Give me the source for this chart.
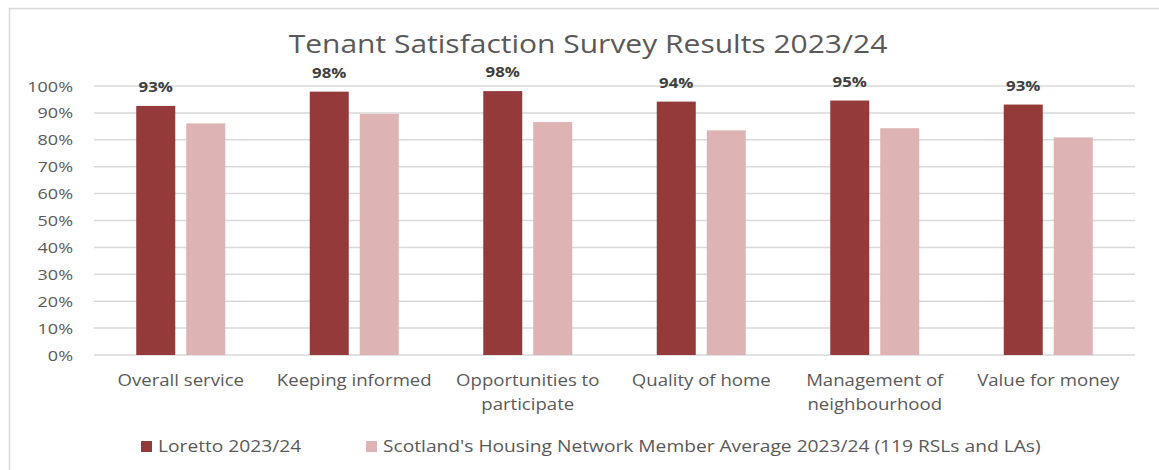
<!DOCTYPE html>
<html>
<head>
<meta charset="utf-8">
<script src="https://cdn.jsdelivr.net/npm/d3@7"></script>
<style>
	body { margin: 0; background: #fff; }
	text { font-family: "Open Sans", sans-serif; }
</style>
</head>
<body>
<div id="chart"></div>
<script>
// Chart data
const categories = [
	["Overall service"],
	["Keeping informed"],
	["Opportunities to", "participate"],
	["Quality of home"],
	["Management of", "neighbourhood"],
	["Value for money"],
];
const loretto = [92.6, 97.9, 98.1, 94.2, 94.6, 93.1];
const lorettoLabels = ["93%", "98%", "98%", "94%", "95%", "93%"];
const networkAvg = [86.1, 89.6, 86.6, 83.5, 84.3, 80.9];
const seriesNames = [
	"Loretto 2023/24",
	"Scotland's Housing Network Member Average 2023/24 (119 RSLs and LAs)",
];
const yTicks = [0, 10, 20, 30, 40, 50, 60, 70, 80, 90, 100];

const colors = ["#943a3a", "#ddb4b3"];

const width = 1159;
const height = 470;
const margin = { top: 86, right: 24, bottom: 115, left: 94 };
const stretch = 1.2; // the source image is widened horizontally

const svg = d3
	.select("#chart")
	.append("svg")
	.attr("width", width)
	.attr("height", height);

// Text helper: places a group at (x, y) and widens its text
function addText(parent, x, y) {
	return parent
		.append("g")
		.attr("transform", `translate(${x},${y}) scale(${stretch},1)`)
		.append("text");
}

// Chart frame (only left/top edges visible in the crop)
svg.append("rect")
	.attr("x", 9.5)
	.attr("y", 8.5)
	.attr("width", 1200)
	.attr("height", 500)
	.attr("fill", "none")
	.attr("stroke", "#d9d9d9")
	.attr("stroke-width", 1.5);

// Title
addText(svg, 588, 53)
	.attr("text-anchor", "middle")
	.style("font-size", "25px")
	.style("fill", "#595959")
	.text("Tenant Satisfaction Survey Results 2023/24");

const x = d3
	.scaleBand()
	.domain(d3.range(categories.length))
	.range([margin.left, width - margin.right]);

const y = d3
	.scaleLinear()
	.domain([0, 100])
	.range([height - margin.bottom, margin.top]);

// Gridlines
svg.append("g")
	.selectAll("line")
	.data(yTicks)
	.join("line")
	.attr("x1", margin.left)
	.attr("x2", width - margin.right)
	.attr("y1", (d) => y(d))
	.attr("y2", (d) => y(d))
	.attr("stroke", "#d9d9d9")
	.attr("stroke-width", 1.5);

// Y axis labels
const yLabels = svg.append("g");
yTicks.forEach((t) => {
	addText(yLabels, 73, y(t) + 5.5)
		.attr("text-anchor", "end")
		.style("font-size", "15px")
		.style("fill", "#595959")
		.text(t + "%");
});

// Bars
const barW = 39;
const gap = 11;
const series = [loretto, networkAvg];

series.forEach((vals, si) => {
	svg.append("g")
		.selectAll("rect")
		.data(vals)
		.join("rect")
		.attr("x", (d, i) => x(i) + x.bandwidth() / 2 - barW - gap / 2 + si * (barW + gap))
		.attr("y", (d) => y(d))
		.attr("width", barW)
		.attr("height", (d) => y(0) - y(d))
		.attr("fill", colors[si]);
});

// Data labels for Loretto
const dataLabels = svg.append("g");
loretto.forEach((v, i) => {
	addText(dataLabels, x(i) + x.bandwidth() / 2 - barW / 2 - gap / 2, y(v) - 14)
		.attr("text-anchor", "middle")
		.style("font-size", "14px")
		.style("font-weight", "bold")
		.style("fill", "#404040")
		.text(lorettoLabels[i]);
});

// X axis labels
const xLabels = svg.append("g");
categories.forEach((lines, i) => {
	const t = addText(xLabels, x(i) + x.bandwidth() / 2, 386)
		.attr("text-anchor", "middle")
		.style("font-size", "15.5px")
		.style("fill", "#595959");
	lines.forEach((line, j) => {
		t.append("tspan")
			.attr("x", 0)
			.attr("dy", j === 0 ? 0 : 24)
			.text(line);
	});
});

// Legend
const legendX = [141, 366];
seriesNames.forEach((name, i) => {
	const g = svg.append("g").attr("transform", `translate(${legendX[i]},441)`);
	g.append("rect")
		.attr("width", 11)
		.attr("height", 11)
		.attr("fill", colors[i]);
	addText(g, 17, 11)
		.style("font-size", "16px")
		.style("fill", "#595959")
		.text(name);
});
</script>
</body>
</html>
